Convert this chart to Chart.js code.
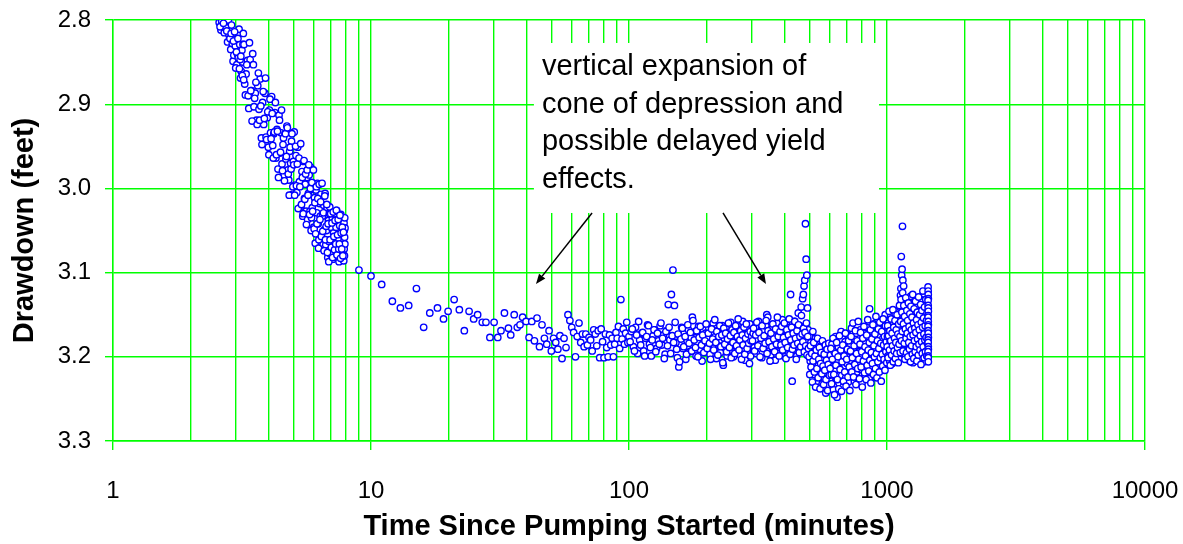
<!DOCTYPE html>
<html lang="en">
<head>
    <meta charset="UTF-8">
    <title>Drawdown vs Time</title>
    <script src="https://cdn.jsdelivr.net/npm/chart.js"></script>
    <style>
        body { margin: 0; background: #fff; }
        #wrap { width: 1183px; height: 544px; }
    </style>
</head>
<body>
    <div id="wrap"><canvas id="drawdown-chart"></canvas></div>

    <script>
        // axis ticks
        const xGridValues = [1, 2, 3, 4, 5, 6, 7, 8, 9, 10, 20, 30, 40, 50, 60, 70, 80, 90, 100,
            200, 300, 400, 500, 600, 700, 800, 900, 1000, 2000, 3000, 4000, 5000, 6000, 7000, 8000, 9000, 10000];
        const xLabelValues = [1, 10, 100, 1000, 10000];
        const yTickValues = [2.8, 2.9, 3.0, 3.1, 3.2, 3.3];

        // early steep part (minutes / feet)
        const earlyMinutes = [
            2.58, 2.62, 2.64, 2.66, 2.70, 2.72, 2.74, 2.78, 2.80, 2.82,
            2.84, 2.86, 2.90, 2.92, 2.94, 2.98, 3.00, 3.02, 3.04, 3.06,
            3.08, 3.10, 3.12, 3.14, 3.16, 3.18, 3.20, 3.24, 3.28, 3.32,
            3.36, 3.40, 3.44, 3.48, 3.52, 3.56, 3.60, 3.64, 3.68, 3.72,
            3.76, 3.80, 3.84, 3.88, 3.92, 3.96, 4.00, 4.04, 4.08, 4.12,
            4.16, 4.20, 4.24, 4.28, 4.32, 4.36, 4.40, 4.44, 4.48, 4.52,
            4.56, 4.60, 4.64, 4.68, 4.72, 4.76, 4.80, 4.84, 4.88, 4.92,
            4.96, 5.00, 5.04, 5.08, 5.12, 5.16, 5.20, 5.24, 5.28, 5.32,
            5.36, 5.40, 5.44, 5.48, 5.52, 5.56, 5.60, 5.64, 5.68, 5.72,
            5.76, 5.80, 5.84, 5.88, 5.92, 5.96, 6.00, 6.04, 6.08, 6.12,
            6.16, 6.20, 6.24, 6.28, 6.32, 6.36, 6.40, 6.44, 6.48, 6.52,
            6.56, 6.60, 6.64, 6.68, 6.72, 6.76, 6.80, 6.84, 6.88, 6.92,
            6.96, 7.00, 7.04, 7.08, 7.12, 7.16, 7.20, 7.24, 7.28, 7.32,
            7.36, 7.40, 7.44, 7.48, 7.52, 7.56, 7.60, 7.64, 7.68, 7.72,
            7.76, 7.80, 7.84, 7.86, 7.87, 7.88, 7.89, 7.90, 7.91, 7.92,
            7.93
        ];
        const earlyDrawdown = [
            2.803, 2.812, 2.802, 2.806, 2.815, 2.802, 2.809, 2.826, 2.800, 2.818,
            2.822, 2.835, 2.828, 2.849, 2.842, 2.831, 2.823, 2.853, 2.841, 2.845,
            2.811, 2.829, 2.869, 2.861, 2.836, 2.850, 2.816, 2.876, 2.864, 2.848,
            2.905, 2.847, 2.884, 2.840, 2.903, 2.887, 2.919, 2.878, 2.906, 2.870,
            2.940, 2.898, 2.924, 2.887, 2.939, 2.916, 2.951, 2.907, 2.934, 2.891,
            2.949, 2.935, 2.910, 2.964, 2.930, 2.977, 2.913, 2.958, 2.934, 2.971,
            2.948, 2.984, 2.935, 2.965, 2.926, 2.978, 2.990, 2.956, 2.970, 2.944,
            3.007, 2.968, 2.933, 2.996, 2.961, 3.005, 2.951, 2.997, 2.992, 2.967,
            3.021, 2.980, 3.033, 2.968, 3.012, 2.995, 3.027, 2.987, 3.037, 3.006,
            2.984, 3.027, 2.975, 3.035, 3.023, 3.001, 3.046, 3.011, 3.065, 3.002,
            3.029, 2.994, 3.042, 3.061, 3.018, 3.033, 3.007, 3.054, 3.033, 3.067,
            3.020, 3.049, 3.006, 3.067, 3.050, 3.023, 3.082, 3.038, 3.063, 3.022,
            3.078, 3.046, 3.070, 3.036, 3.084, 3.053, 3.030, 3.066, 3.081, 3.046,
            3.026, 3.077, 3.060, 3.038, 3.087, 3.044, 3.068, 3.031, 3.082, 3.053,
            3.075, 3.039, 3.086, 3.041, 3.072, 3.050, 3.080, 3.058, 3.035, 3.066,
            3.047
        ];

        // in-between readings of the early part
        const earlyMinutesB = [
            2.60, 2.68, 2.76, 2.87, 2.88, 2.93, 2.96, 2.99, 3.01, 3.05,
            3.09, 3.11, 3.13, 3.17, 3.19, 3.21,
            3.22, 3.26, 3.30, 3.34, 3.38, 3.42, 3.46, 3.50, 3.54, 3.58,
            3.62, 3.66, 3.70, 3.74, 3.78, 3.82, 3.86, 3.90, 3.94, 3.98,
            4.02, 4.06, 4.10, 4.14, 4.18, 4.22, 4.26, 4.30, 4.34, 4.38,
            4.42, 4.46, 4.50, 4.54, 4.58, 4.62, 4.66, 4.70, 4.74, 4.78,
            4.82, 4.86, 4.90, 4.94, 4.98, 5.02, 5.06, 5.10, 5.14, 5.18,
            5.22, 5.26, 5.30, 5.34, 5.38, 5.42, 5.46, 5.50, 5.54, 5.58,
            5.62, 5.66, 5.70, 5.74, 5.78, 5.82, 5.86, 5.90, 5.94, 5.98,
            6.02, 6.06, 6.10, 6.14, 6.18, 6.22, 6.26, 6.30, 6.34, 6.38,
            6.42, 6.46, 6.50, 6.54, 6.58, 6.62, 6.66, 6.70, 6.74, 6.78,
            6.82, 6.86, 6.90, 6.94, 6.98, 7.02, 7.06, 7.10, 7.14, 7.18,
            7.22, 7.26, 7.30, 7.34, 7.38, 7.42, 7.46, 7.50, 7.54, 7.58,
            7.62, 7.66, 7.70, 7.74, 7.78, 7.82
        ];
        const earlyDrawdownB = [
            2.808, 2.804, 2.813, 2.816, 2.806, 2.825, 2.814, 2.857, 2.838, 2.822,
            2.858, 2.847, 2.843, 2.866, 2.829, 2.871,
            2.829, 2.889, 2.853, 2.890, 2.827, 2.884, 2.920, 2.853, 2.893, 2.874,
            2.924, 2.863, 2.919, 2.902, 2.948, 2.885, 2.917, 2.869, 2.942, 2.909,
            2.960, 2.894, 2.941, 2.911, 2.964, 2.933, 2.898, 2.960, 2.932, 2.987,
            2.919, 2.957, 2.907, 2.979, 2.940, 2.991, 2.935, 2.962, 2.928, 2.983,
            3.008, 2.951, 2.977, 2.935, 2.998, 2.972, 3.008, 2.950, 2.997, 2.971,
            3.024, 2.964, 2.998, 2.947, 3.019, 2.987, 3.030, 2.967, 3.013, 2.983,
            3.043, 2.978, 3.008, 2.972, 3.031, 3.000, 3.050, 2.993, 3.027, 2.978,
            3.048, 3.017, 3.054, 2.998, 3.042, 3.012, 3.071, 2.995, 3.037, 3.016,
            3.057, 2.994, 3.051, 3.029, 3.074, 3.009, 3.061, 3.045, 3.019, 3.076,
            3.042, 3.087, 3.030, 3.061, 3.030, 3.070, 3.041, 3.082, 3.028, 3.057,
            3.073, 3.038, 3.066, 3.026, 3.079, 3.055, 3.037, 3.072, 3.066, 3.032,
            3.083, 3.053, 3.072, 3.046, 3.080, 3.052
        ];

        // sparse readings, 9 to 40 min
        const midMinutes = [
            8.98, 10.0, 11.0, 12.1, 13.0, 14.0, 15.0, 16.0, 16.9, 18.1,
            19.1, 19.9, 21.0, 22.0, 23.0, 24.0, 25.0, 25.9, 27.0, 27.9,
            28.9, 30.0, 31.0, 31.9, 32.9, 34.1, 34.8, 35.9, 36.9, 37.8,
            38.7, 39.9
        ];
        const midDrawdown = [
            3.097, 3.104, 3.114, 3.134, 3.142, 3.139, 3.119, 3.165, 3.148, 3.142,
            3.155, 3.146, 3.132, 3.144, 3.169, 3.146, 3.155, 3.150, 3.159, 3.159,
            3.177, 3.159, 3.177, 3.169, 3.148, 3.166, 3.174, 3.150, 3.165, 3.162,
            3.153, 3.158
        ];

        // 41 to 100 min
        const minuteMinutes = [
            41, 42, 43, 44, 45, 46, 47, 48, 49, 50,
            51, 52, 53, 54, 55, 56, 57, 58, 59, 60,
            61, 62, 63, 64, 65, 66, 67, 68, 69, 70,
            71, 72, 73, 74, 75, 76, 77, 78, 79, 80,
            81, 82, 83, 84, 85, 86, 87, 88, 89, 90,
            91, 92, 93, 94, 95, 96, 97, 98, 99, 100
        ];
        const minuteDrawdown = [
            3.177, 3.158, 3.181, 3.154, 3.188, 3.162, 3.178, 3.185, 3.169, 3.193,
            3.178, 3.183, 3.191, 3.175, 3.202, 3.178, 3.189, 3.150, 3.157, 3.165,
            3.171, 3.200, 3.176, 3.160, 3.183, 3.173, 3.188, 3.173, 3.186, 3.177,
            3.180, 3.193, 3.168, 3.173, 3.187, 3.169, 3.201, 3.167, 3.182, 3.201,
            3.173, 3.189, 3.200, 3.174, 3.186, 3.178, 3.200, 3.185, 3.171, 3.178,
            3.164, 3.190, 3.132, 3.179, 3.167, 3.185, 3.172, 3.159, 3.183, 3.176
        ];

        // 102 to 300 min
        const lateMinutes = [
            102, 104, 106, 108, 110, 112, 114, 116, 118, 120,
            122, 124, 126, 128, 130, 132, 134, 136, 138, 140,
            142, 144, 146, 148, 150, 152, 154, 156, 158, 160,
            162, 164, 166, 168, 170, 172, 174, 176, 178, 180,
            182, 184, 186, 188, 190, 192, 194, 196, 198, 200,
            202, 204, 206, 208, 210, 212, 214, 216, 218, 220,
            222, 224, 226, 228, 230, 232, 234, 236, 238, 240,
            242, 244, 246, 248, 250, 252, 254, 256, 258, 260,
            262, 264, 266, 268, 270, 272, 274, 276, 278, 280,
            282, 284, 286, 288, 290, 292, 294, 296, 298, 300
        ];
        const lateDrawdown = [
            3.170, 3.188, 3.165, 3.196, 3.180, 3.172, 3.193, 3.178, 3.162, 3.185,
            3.199, 3.175, 3.168, 3.190, 3.181, 3.163, 3.186, 3.174, 3.197, 3.169,
            3.138, 3.180, 3.126, 3.097, 3.139, 3.183, 3.201, 3.212, 3.176, 3.165,
            3.190, 3.172, 3.203, 3.181, 3.168, 3.194, 3.177, 3.153, 3.188, 3.170,
            3.199, 3.182, 3.164, 3.191, 3.175, 3.205, 3.168, 3.184, 3.172, 3.193,
            3.179, 3.166, 3.197, 3.183, 3.171, 3.160, 3.189, 3.176, 3.202, 3.169,
            3.185, 3.174, 3.195, 3.180, 3.163, 3.210, 3.178, 3.188, 3.167, 3.199,
            3.182, 3.171, 3.192, 3.159, 3.185, 3.174, 3.200, 3.168, 3.187, 3.177,
            3.162, 3.193, 3.181, 3.170, 3.198, 3.176, 3.186, 3.158, 3.190, 3.173,
            3.204, 3.180, 3.166, 3.194, 3.175, 3.185, 3.161, 3.199, 3.178, 3.170
        ];

        // 101 to 299 min, in-between readings
        const lateMinutesB = [
            101, 103, 105, 107, 109, 111, 113, 115, 117, 119,
            121, 123, 125, 127, 129, 131, 133, 135, 137, 139,
            141, 143, 145, 147, 149, 151, 153, 155, 157, 159,
            161, 163, 165, 167, 169, 171, 173, 175, 177, 179,
            181, 183, 185, 187, 189, 191, 193, 195, 197, 199,
            201, 203, 205, 207, 209, 211, 213, 215, 217, 219,
            221, 223, 225, 227, 229, 231, 233, 235, 237, 239,
            241, 243, 245, 247, 249, 251, 253, 255, 257, 259,
            261, 263, 265, 267, 269, 271, 273, 275, 277, 279,
            281, 283, 285, 287, 289, 291, 293, 295, 297, 299
        ];
        const lateDrawdownB = [
            3.182, 3.167, 3.193, 3.174, 3.158, 3.186, 3.171, 3.199, 3.176, 3.163,
            3.189, 3.180, 3.168, 3.194, 3.172, 3.185, 3.160, 3.178, 3.202, 3.170,
            3.187, 3.165, 3.196, 3.175, 3.183, 3.159, 3.191, 3.173, 3.206, 3.179,
            3.166, 3.188, 3.176, 3.197, 3.162, 3.184, 3.171, 3.193, 3.157, 3.180,
            3.189, 3.169, 3.200, 3.177, 3.164, 3.186, 3.174, 3.195, 3.181, 3.161,
            3.190, 3.172, 3.184, 3.203, 3.167, 3.179, 3.192, 3.156, 3.183, 3.170,
            3.198, 3.176, 3.163, 3.188, 3.174, 3.207, 3.166, 3.185, 3.172, 3.194,
            3.179, 3.160, 3.189, 3.175, 3.201, 3.168, 3.183, 3.171, 3.196, 3.163,
            3.187, 3.176, 3.155, 3.192, 3.180, 3.169, 3.203, 3.174, 3.186, 3.165,
            3.197, 3.178, 3.161, 3.190, 3.173, 3.184, 3.208, 3.170, 3.181, 3.176
        ];

        // 303 to 600 min
        const hourMinutes = [
            303, 306, 309, 312, 315, 318, 321, 324, 327, 330,
            333, 336, 339, 342, 345, 348, 351, 354, 357, 360,
            363, 366, 369, 372, 375, 378, 381, 384, 387, 390,
            393, 396, 399, 402, 405, 408, 411, 414, 417, 420,
            423, 426, 429, 432, 435, 438, 441, 444, 447, 450,
            453, 456, 459, 462, 465, 468, 471, 474, 477, 480,
            483, 486, 489, 492, 495, 498, 501, 504, 507, 510,
            513, 516, 519, 522, 525, 528, 531, 534, 537, 540,
            543, 546, 549, 552, 555, 558, 561, 564, 567, 570,
            573, 576, 579, 582, 585, 588, 591, 594, 597, 600
        ];
        const hourDrawdown = [
            3.172, 3.189, 3.165, 3.196, 3.180, 3.158, 3.185, 3.174, 3.201, 3.168,
            3.190, 3.177, 3.163, 3.150, 3.153, 3.186, 3.171, 3.198, 3.181, 3.166,
            3.192, 3.175, 3.204, 3.169, 3.187, 3.160, 3.178, 3.196, 3.172, 3.183,
            3.156, 3.190, 3.168, 3.200, 3.176, 3.162, 3.188, 3.173, 3.195, 3.165,
            3.126, 3.181, 3.229, 3.170, 3.192, 3.158, 3.184, 3.167, 3.199, 3.176,
            3.148, 3.189, 3.163, 3.185, 3.141, 3.172, 3.131, 3.126, 3.116, 3.109,
            3.042, 3.084, 3.103, 3.142, 3.168, 3.190, 3.176, 3.205, 3.183, 3.212,
            3.194, 3.170, 3.221, 3.188, 3.207, 3.178, 3.215, 3.196, 3.229, 3.185,
            3.210, 3.199, 3.224, 3.181, 3.205, 3.193, 3.232, 3.201, 3.216, 3.187,
            3.226, 3.208, 3.243, 3.196, 3.219, 3.203, 3.234, 3.190, 3.212, 3.226
        ];

        // 301 to 598 min, in-between readings
        const hourMinutesB = [
            301, 304, 307, 310, 313, 316, 319, 322, 325, 328,
            331, 334, 337, 340, 343, 346, 349, 352, 355, 358,
            361, 364, 367, 370, 373, 376, 379, 382, 385, 388,
            391, 394, 397, 400, 403, 406, 409, 412, 415, 418,
            421, 424, 427, 430, 433, 436, 439, 442, 445, 448,
            451, 454, 457, 460, 463, 466, 469,
            472, 475, 478, 481, 484, 487, 490, 493, 496,
            499, 502, 505, 508, 511, 514, 517, 520, 523, 526,
            529, 532, 535, 538, 541, 544, 547, 550, 553, 556,
            559, 562, 565, 568, 571, 574, 577, 580, 583, 586,
            589, 592, 595, 598
        ];
        const hourDrawdownB = [
            3.181, 3.166, 3.193, 3.174, 3.159, 3.187, 3.171, 3.200, 3.178, 3.163,
            3.190, 3.175, 3.184, 3.157, 3.196, 3.169, 3.182, 3.205, 3.172, 3.188,
            3.161, 3.179, 3.194, 3.167, 3.185, 3.153, 3.176, 3.199, 3.170, 3.186,
            3.164, 3.192, 3.177, 3.160, 3.183, 3.202, 3.168, 3.189, 3.174, 3.155,
            3.197, 3.180, 3.165, 3.191, 3.172, 3.186, 3.158, 3.178, 3.203, 3.169,
            3.184, 3.162, 3.195, 3.176, 3.188, 3.151, 3.173,
            3.182, 3.166, 3.194, 3.171, 3.187, 3.160, 3.198, 3.176, 3.190,
            3.200, 3.221, 3.187, 3.212, 3.196, 3.230, 3.205, 3.183, 3.218, 3.199,
            3.236, 3.192, 3.214, 3.178, 3.225, 3.203, 3.189, 3.238, 3.208, 3.195,
            3.220, 3.181, 3.211, 3.233, 3.197, 3.216, 3.186, 3.227, 3.204, 3.191,
            3.240, 3.209, 3.184, 3.222
        ];

        // 604 to 1000 min
        const dayMinutes = [
            604, 608, 612, 616, 620, 624, 628, 632, 636, 640,
            644, 648, 652, 656, 660, 664, 668, 672, 676, 680,
            684, 688, 692, 696, 700, 704, 708, 712, 716, 720,
            724, 728, 732, 736, 740, 744, 748, 752, 756, 760,
            764, 768, 772, 776, 780, 784, 788, 792, 796, 800,
            804, 808, 812, 816, 820, 824, 828, 832, 836, 840,
            844, 848, 852, 856, 860, 864, 868, 872, 876, 880,
            884, 888, 892, 896, 900, 904, 908, 912, 916, 920,
            924, 928, 932, 936, 940, 944, 948, 952, 956, 960,
            964, 968, 972, 976, 980, 984, 988, 992, 996, 1000
        ];
        const dayDrawdown = [
            3.198, 3.221, 3.185, 3.212, 3.239, 3.194, 3.217, 3.176, 3.228, 3.248,
            3.205, 3.188, 3.231, 3.199, 3.214, 3.170, 3.222, 3.201, 3.236, 3.190,
            3.211, 3.182, 3.225, 3.197, 3.208, 3.174, 3.230, 3.193, 3.216, 3.187,
            3.204, 3.166, 3.222, 3.195, 3.213, 3.178, 3.229, 3.189, 3.207, 3.172,
            3.218, 3.198, 3.183, 3.226, 3.194, 3.209, 3.168, 3.215, 3.187, 3.231,
            3.199, 3.176, 3.211, 3.190, 3.222, 3.182, 3.204, 3.165, 3.216, 3.193,
            3.208, 3.177, 3.226, 3.143, 3.199, 3.185, 3.213, 3.170, 3.202, 3.189,
            3.219, 3.161, 3.196, 3.208, 3.180, 3.224, 3.192, 3.171, 3.205, 3.186,
            3.215, 3.163, 3.197, 3.182, 3.210, 3.175, 3.200, 3.158, 3.190, 3.213,
            3.178, 3.195, 3.166, 3.204, 3.184, 3.150, 3.199, 3.172, 3.191, 3.180
        ];

        // 602 to 998 min, in-between readings
        const dayMinutesB = [
            602, 606, 610, 614, 618, 622, 626, 630, 634, 638,
            642, 646, 650, 654, 658, 662, 666, 670, 674, 678,
            682, 686, 690, 694, 698, 702, 706, 710, 714, 718,
            722, 726, 730, 734, 738, 742, 746, 750, 754, 758,
            762, 766, 770, 774, 778, 782, 786, 790, 794, 798,
            802, 806, 810, 814, 818, 822, 826, 830, 834, 838,
            842, 846, 850, 854, 858, 862, 866, 870, 874, 878,
            882, 886, 890, 894, 898, 902, 906, 910, 914, 918,
            922, 926, 930, 934, 938, 942, 946, 950, 954, 958,
            962, 966, 970, 974, 978, 982, 986, 990, 994, 998
        ];
        const dayDrawdownB = [
            3.214, 3.190, 3.232, 3.203, 3.178, 3.221, 3.245, 3.196, 3.210, 3.183,
            3.227, 3.200, 3.238, 3.175, 3.215, 3.192, 3.241, 3.206, 3.186, 3.229,
            3.199, 3.218, 3.172, 3.235, 3.203, 3.191, 3.224, 3.181, 3.212, 3.240,
            3.193, 3.176, 3.218, 3.201, 3.160, 3.224, 3.187, 3.209, 3.169, 3.233,
            3.196, 3.181, 3.214, 3.158, 3.203, 3.226, 3.185, 3.171, 3.212, 3.194,
            3.236, 3.178, 3.205, 3.164, 3.219, 3.188, 3.199, 3.227, 3.174, 3.210,
            3.156, 3.192, 3.217, 3.183, 3.204, 3.168, 3.231, 3.195, 3.179, 3.208,
            3.162, 3.221, 3.187, 3.200, 3.173, 3.214, 3.152, 3.196, 3.225, 3.181,
            3.206, 3.167, 3.190, 3.218, 3.159, 3.201, 3.184, 3.229, 3.170, 3.197,
            3.211, 3.155, 3.186, 3.203, 3.176, 3.216, 3.163, 3.194, 3.182, 3.207
        ];

        // 1004 to 1436 min
        const endMinutes = [
            1004, 1008, 1012, 1016, 1020, 1024, 1028, 1032, 1036, 1040,
            1044, 1048, 1052, 1056, 1060, 1064, 1068, 1072, 1076, 1080,
            1084, 1088, 1092, 1096, 1100, 1104, 1108, 1112, 1116, 1120,
            1124, 1128, 1132, 1136, 1140, 1144, 1148, 1152, 1156, 1160,
            1164, 1168, 1172, 1176, 1180, 1184, 1188, 1192, 1196, 1200,
            1204, 1208, 1212, 1216, 1220, 1224, 1228, 1232, 1236, 1240,
            1244, 1248, 1252, 1256, 1260, 1264, 1268, 1272, 1276, 1280,
            1284, 1288, 1292, 1296, 1300, 1304, 1308, 1312, 1316, 1320,
            1324, 1328, 1332, 1336, 1340, 1344, 1348, 1352, 1356, 1360,
            1364, 1368, 1372, 1376, 1380, 1384, 1388, 1392, 1396, 1400,
            1404, 1408, 1412, 1416, 1420, 1424, 1428, 1432, 1436
        ];
        const endDrawdown = [
            3.176, 3.199, 3.160, 3.188, 3.170, 3.205, 3.182, 3.152, 3.193, 3.167,
            3.186, 3.208, 3.174, 3.158, 3.196, 3.180, 3.165, 3.190, 3.149, 3.201,
            3.172, 3.185, 3.160, 3.194, 3.177, 3.156, 3.189, 3.168, 3.203, 3.141,
            3.179, 3.127, 3.119, 3.081, 3.103, 3.096, 3.045, 3.109, 3.131, 3.116,
            3.138, 3.150, 3.186, 3.162, 3.199, 3.144, 3.175, 3.158, 3.192, 3.169,
            3.135, 3.183, 3.152, 3.204, 3.166, 3.141, 3.189, 3.173, 3.128, 3.160,
            3.196, 3.148, 3.179, 3.164, 3.207, 3.137, 3.185, 3.155, 3.171, 3.198,
            3.143, 3.176, 3.161, 3.190, 3.130, 3.168, 3.201, 3.152, 3.182, 3.139,
            3.174, 3.195, 3.158, 3.185, 3.146, 3.203, 3.167, 3.133, 3.189, 3.156,
            3.178, 3.142, 3.197, 3.163, 3.184, 3.125, 3.171, 3.206, 3.150, 3.187,
            3.160, 3.195, 3.137, 3.176, 3.154, 3.200, 3.166, 3.182, 3.145
        ];

        // 1002 to 1434 min, in-between readings
        const endMinutesB = [
            1002, 1006, 1010, 1014, 1018, 1022, 1026, 1030, 1034, 1038,
            1042, 1046, 1050, 1054, 1058, 1062, 1066, 1070, 1074, 1078,
            1082, 1086, 1090, 1094, 1098, 1102, 1106, 1110, 1114, 1118,
            1122, 1126, 1130, 1134, 1138, 1142, 1146, 1150, 1154, 1158,
            1162, 1166, 1170, 1174, 1178, 1182, 1186, 1190, 1194, 1198,
            1202, 1206, 1210, 1214, 1218, 1222, 1226, 1230, 1234, 1238,
            1242, 1246, 1250, 1254, 1258, 1262, 1266, 1270, 1274, 1278,
            1282, 1286, 1290, 1294, 1298, 1302, 1306, 1310, 1314, 1318,
            1322, 1326, 1330, 1334, 1338, 1342, 1346, 1350, 1354, 1358,
            1362, 1366, 1370, 1374, 1378, 1382, 1386, 1390, 1394, 1398,
            1402, 1406, 1410, 1414, 1418, 1422, 1426, 1430, 1434
        ];
        const endDrawdownB = [
            3.188, 3.163, 3.201, 3.175, 3.146, 3.192, 3.169, 3.210, 3.181, 3.155,
            3.198, 3.172, 3.187, 3.144, 3.206, 3.165, 3.193, 3.178, 3.157, 3.202,
            3.183, 3.168, 3.196, 3.150, 3.189, 3.173, 3.207, 3.161, 3.185, 3.139,
            3.176, 3.195, 3.158, 3.132, 3.181, 3.147, 3.170, 3.124, 3.193, 3.161,
            3.139, 3.184, 3.152, 3.203, 3.167, 3.130, 3.178, 3.195, 3.145, 3.172,
            3.157, 3.200, 3.136, 3.183, 3.164, 3.191, 3.149, 3.176, 3.206, 3.140,
            3.168, 3.187, 3.153, 3.197, 3.126, 3.174, 3.160, 3.202, 3.143, 3.181,
            3.166, 3.194, 3.134, 3.171, 3.188, 3.156, 3.205, 3.147, 3.179, 3.162,
            3.198, 3.129, 3.185, 3.168, 3.150, 3.192, 3.175, 3.138, 3.209, 3.159,
            3.182, 3.145, 3.196, 3.165, 3.122, 3.188, 3.154, 3.173, 3.201, 3.141,
            3.180, 3.163, 3.194, 3.132, 3.177, 3.157, 3.199, 3.148, 3.184
        ];

        // last readings, stacked near 1445 min
        const lastMinutes = [
            1443, 1444, 1445, 1446, 1443, 1444, 1445, 1446, 1443, 1444,
            1445, 1446, 1443, 1444, 1445, 1446, 1443, 1444, 1445, 1446,
            1443, 1444, 1445, 1446
        ];
        const lastDrawdown = [
            3.117, 3.122, 3.126, 3.131, 3.133, 3.139, 3.142, 3.146, 3.151, 3.153,
            3.158, 3.162, 3.164, 3.169, 3.172, 3.177, 3.180, 3.183, 3.188, 3.191,
            3.194, 3.199, 3.201, 3.206
        ];

        const noteLines = ['vertical expansion of', 'cone of depression and', 'possible delayed yield', 'effects.'];

        const gridGreen = '#00ff00';
        const fontFamily = 'Arial, "Liberation Sans", sans-serif';

        function toPoints(xs, ys) {
            return xs.map((x, i) => ({ x: x, y: ys[i] }));
        }

        const allPoints = [].concat(
            toPoints(earlyMinutes, earlyDrawdown),
            toPoints(earlyMinutesB, earlyDrawdownB),
            toPoints(midMinutes, midDrawdown),
            toPoints(minuteMinutes, minuteDrawdown),
            toPoints(lateMinutes, lateDrawdown),
            toPoints(lateMinutesB, lateDrawdownB),
            toPoints(hourMinutes, hourDrawdown),
            toPoints(hourMinutesB, hourDrawdownB),
            toPoints(dayMinutes, dayDrawdown),
            toPoints(dayMinutesB, dayDrawdownB),
            toPoints(endMinutes, endDrawdown),
            toPoints(endMinutesB, endDrawdownB),
            toPoints(lastMinutes, lastDrawdown)
        );

        // callout box + arrows, anchored in data units
        const note = {
            box: { t0: 42.8, t1: 931, d0: 2.8273, d1: 3.0292 },
            arrows: [
                { from: [71.9, 3.0292], to: [43.6, 3.1135] },
                { from: [231.4, 3.0292], to: [339.6, 3.1135] }
            ]
        };

        const calloutPlugin = {
            id: 'callout',
            afterDatasetsDraw(chart) {
                const ctx = chart.ctx;
                const xs = chart.scales.x, ys = chart.scales.y;
                const left = xs.getPixelForValue(note.box.t0);
                const right = xs.getPixelForValue(note.box.t1);
                const top = ys.getPixelForValue(note.box.d0);
                const bottom = ys.getPixelForValue(note.box.d1);
                ctx.save();
                ctx.fillStyle = '#ffffff';
                ctx.fillRect(left, top, right - left, bottom - top);

                ctx.fillStyle = '#000000';
                ctx.font = '29px ' + fontFamily;
                ctx.textAlign = 'left';
                ctx.textBaseline = 'alphabetic';
                noteLines.forEach((line, i) => {
                    ctx.fillText(line, left + 8, top + 32 + i * 37.7);
                });

                ctx.strokeStyle = '#000000';
                ctx.lineWidth = 1.5;
                note.arrows.forEach(a => {
                    const x0 = xs.getPixelForValue(a.from[0]), y0 = ys.getPixelForValue(a.from[1]);
                    const x1 = xs.getPixelForValue(a.to[0]), y1 = ys.getPixelForValue(a.to[1]);
                    const ang = Math.atan2(y1 - y0, x1 - x0);
                    const len = 10, half = 4;
                    const bx = x1 - len * Math.cos(ang), by = y1 - len * Math.sin(ang);
                    ctx.beginPath();
                    ctx.moveTo(x0, y0);
                    ctx.lineTo(bx, by);
                    ctx.stroke();
                    ctx.beginPath();
                    ctx.moveTo(x1, y1);
                    ctx.lineTo(bx + half * Math.sin(ang), by - half * Math.cos(ang));
                    ctx.lineTo(bx - half * Math.sin(ang), by + half * Math.cos(ang));
                    ctx.closePath();
                    ctx.fillStyle = '#000000';
                    ctx.fill();
                });
                ctx.restore();
            }
        };

        const ctx = document.getElementById('drawdown-chart').getContext('2d');
        new Chart(ctx, {
            type: 'scatter',
            data: {
                datasets: [{
                    label: 'Drawdown',
                    data: allPoints,
                    pointStyle: 'circle',
                    pointRadius: 3.2,
                    pointBorderWidth: 1.4,
                    borderColor: '#0000ff',
                    backgroundColor: '#ffffff',
                    clip: 0
                }]
            },
            options: {
                responsive: true,
                maintainAspectRatio: false,
                animation: false,
                layout: { padding: { top: 20, right: 38, left: 0, bottom: 0 } },
                plugins: {
                    legend: { display: false },
                    tooltip: { enabled: false }
                },
                scales: {
                    x: {
                        type: 'logarithmic',
                        min: 1,
                        max: 10000,
                        afterFit: (scale) => {
                            scale.height = 103;
                            scale.paddingLeft = 0;
                            scale.paddingRight = 0;
                        },
                        afterBuildTicks: (scale) => {
                            scale.ticks = xGridValues.map(v => ({ value: v }));
                        },
                        ticks: {
                            autoSkip: false,
                            maxRotation: 0,
                            padding: 27,
                            color: '#000',
                            font: { family: fontFamily, size: 24 },
                            callback: (value) => xLabelValues.includes(value) ? String(value) : ''
                        },
                        grid: {
                            color: gridGreen,
                            lineWidth: 1.4,
                            tickLength: 9,
                            tickColor: (c) => (c.tick && xLabelValues.includes(c.tick.value)) ? gridGreen : 'rgba(0,0,0,0)'
                        },
                        border: { color: gridGreen, width: 1.4 },
                        title: {
                            display: true,
                            text: 'Time Since Pumping Started (minutes)',
                            color: '#000',
                            font: { family: fontFamily, size: 29, weight: 'bold' },
                            padding: { top: 0, bottom: 0 }
                        }
                    },
                    y: {
                        reverse: true,
                        min: 2.8,
                        max: 3.3,
                        afterFit: (scale) => {
                            scale.width = 113;
                            scale.paddingTop = 0;
                            scale.paddingBottom = 0;
                        },
                        afterBuildTicks: (scale) => {
                            scale.ticks = yTickValues.map(v => ({ value: v }));
                        },
                        ticks: {
                            padding: 14,
                            color: '#000',
                            font: { family: fontFamily, size: 24 },
                            callback: (value) => Number(value).toFixed(1)
                        },
                        grid: {
                            color: gridGreen,
                            lineWidth: 1.4,
                            tickLength: 8,
                            tickColor: gridGreen
                        },
                        border: { color: gridGreen, width: 1.4 },
                        title: {
                            display: true,
                            text: 'Drawdown (feet)',
                            color: '#000',
                            font: { family: fontFamily, size: 29, weight: 'bold' },
                            padding: { top: 8, bottom: 0 }
                        }
                    }
                }
            },
            plugins: [calloutPlugin]
        });
    </script>
</body>
</html>
